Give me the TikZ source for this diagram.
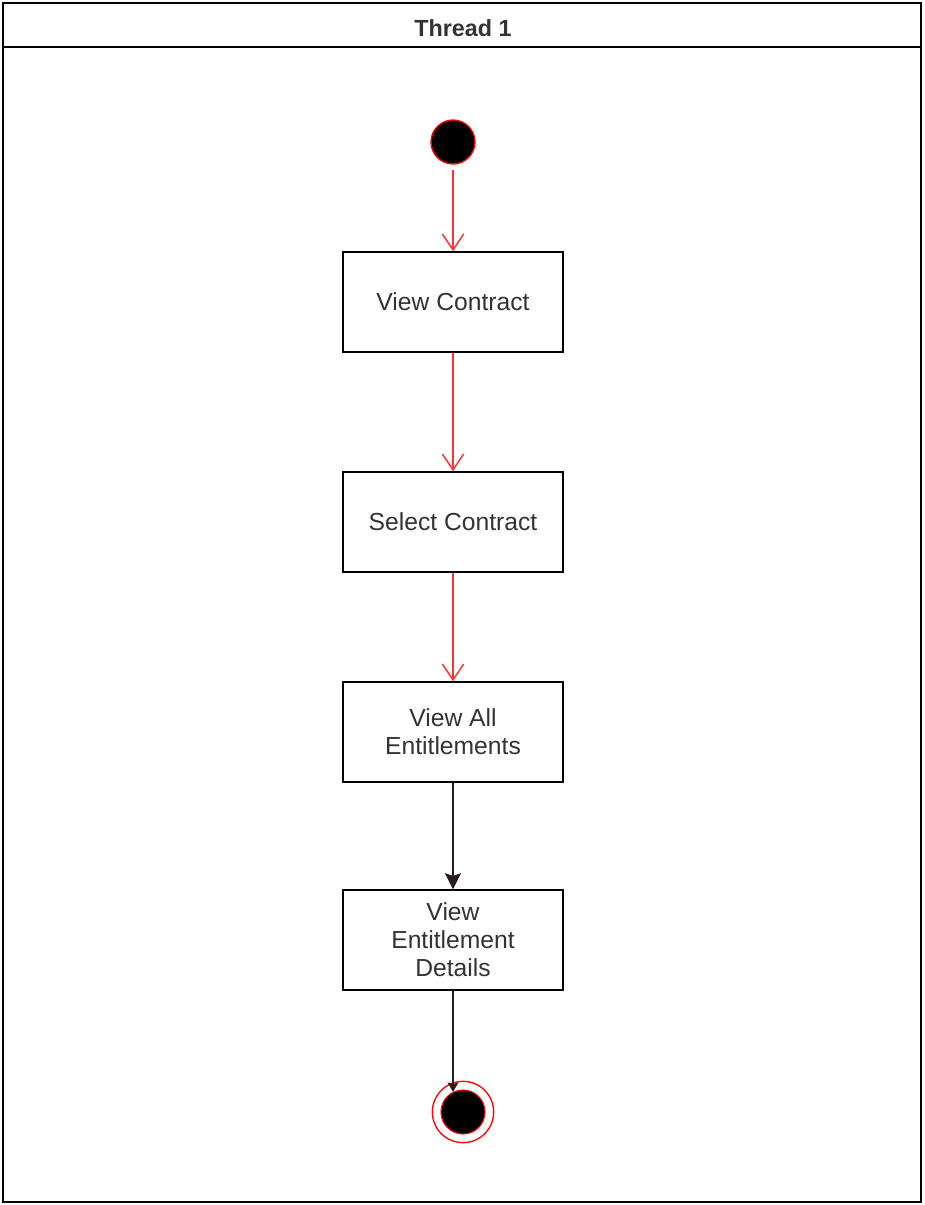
\documentclass[tikz,border=0pt]{standalone}
\usepackage{fontspec}
\setmainfont{Liberation Sans}
\usetikzlibrary{arrows.meta,calc}
\definecolor{redline}{HTML}{FF3333}
\definecolor{darkedge}{HTML}{2A1A1A}
\definecolor{txt}{HTML}{333333}
\tikzset{
  actbox/.style={draw=black, line width=1.1pt, fill=white, minimum width=165pt, minimum height=75pt, inner sep=0pt, align=center, text=txt, font=\fontsize{18.5pt}{21pt}\selectfont},
  rededge/.style={draw=redline, line width=1.1pt, -{Straight Barb[length=12pt,width=16pt,line width=1.1pt]}},
  darkedge/.style={draw=darkedge, line width=1.1pt, -{Stealth[length=12pt,width=12pt,inset=2pt]}},
}
\begin{document}
\begin{tikzpicture}[x=0.75pt,y=-0.75pt]
\useasboundingbox (0,0) rectangle (924,1205);
% swimlane frame
\draw[line width=1.5pt, fill=white] (3,3) rectangle (921,1202);
\draw[line width=1.5pt] (3,47) -- (921,47);
\node[font=\bfseries\fontsize{17.5pt}{20pt}\selectfont, text=txt] (title) at (463,28) {Thread 1};
% start
\node[circle, draw=red, line width=1pt, fill=black, minimum size=33pt, inner sep=0pt] (start) at (453,142) {};
% boxes
\node[actbox] (b1) at (453,302) {View Contract};
\node[actbox] (b2) at (453,522) {Select Contract};
\node[actbox] (b3) at (453,732) {View All\\Entitlements};
\node[actbox] (b4) at (453,940) {View\\Entitlement\\Details};
% end
\node[circle, draw=red, line width=1pt, fill=white, minimum size=46pt, inner sep=0pt] (endo) at (463,1112) {};
\node[circle, draw=red, line width=0.8pt, fill=black, minimum size=33pt, inner sep=0pt] (endi) at (463,1112) {};
% edges
\draw[rededge] ([yshift=-4pt]start.south) -- (b1.north);
\draw[rededge] (b1.south) -- (b2.north);
\draw[rededge] (b2.south) -- (b3.north);
\draw[darkedge] (b3.south) -- (b4.north);
\coordinate (endpt) at (endi.117);
\draw[darkedge, -{Stealth[length=7pt,width=8pt,inset=1pt]}] (b4.south) -- (b4.south |- endpt);
\end{tikzpicture}
\end{document}
